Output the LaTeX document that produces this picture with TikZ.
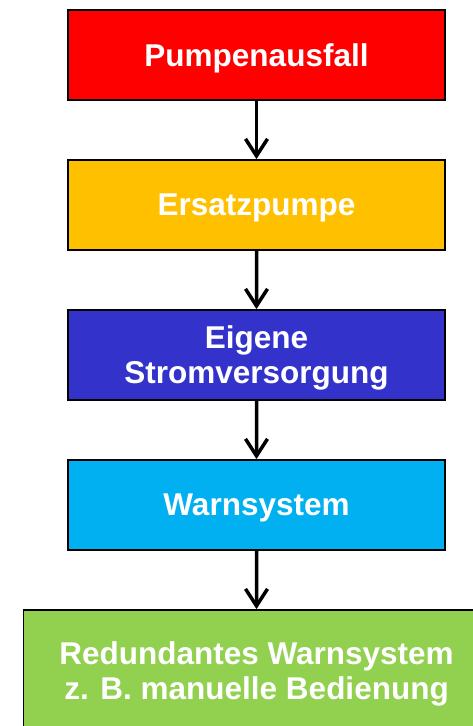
\documentclass[tikz,border=0pt]{standalone}
\usepackage{fontspec}
\setmainfont{Liberation Sans}
\usepackage{tikz}
\usetikzlibrary{arrows.meta}

\definecolor{ausfallrot}{HTML}{FF0000}
\definecolor{ersatzgelb}{HTML}{FFC000}
\definecolor{stromblau}{HTML}{3333CC}
\definecolor{warncyan}{HTML}{00B0F0}
\definecolor{redundanzgruen}{HTML}{92D050}

\begin{document}
\begin{tikzpicture}
[level distance=150pt]
\tikzstyle{step box}=[rectangle,draw=black,line width=1.8pt,inner sep=0,
  minimum width=377pt,minimum height=90pt,align=center,text=white,
  text depth=0pt,font=\fontsize{31.5}{35}\selectfont\bfseries]
\tikzstyle{flow arrow}=[draw=black,line width=3.5pt,
  -{Straight Barb[length=17pt,width=22pt]}]

\path[use as bounding box,clip](0,0)rectangle(473pt,-726pt);

\node(0)[step box,fill=ausfallrot]at(256.5pt,-55pt){Pumpenausfall}
[edge from parent/.style={flow arrow}]
   child{node(1)[step box,fill=ersatzgelb]{Ersatzpumpe}
     child{node(2)[step box,fill=stromblau]{Eigene\\Stromversorgung}
       child{node(3)[step box,fill=warncyan]{Warnsystem}
         child[level distance=166pt]{node(4)[step box,fill=redundanzgruen,
           minimum width=466pt,minimum height=122pt]
           {Redundantes Warnsystem\\z. B. manuelle Bedienung}}}}};
\end{tikzpicture}
\end{document}
